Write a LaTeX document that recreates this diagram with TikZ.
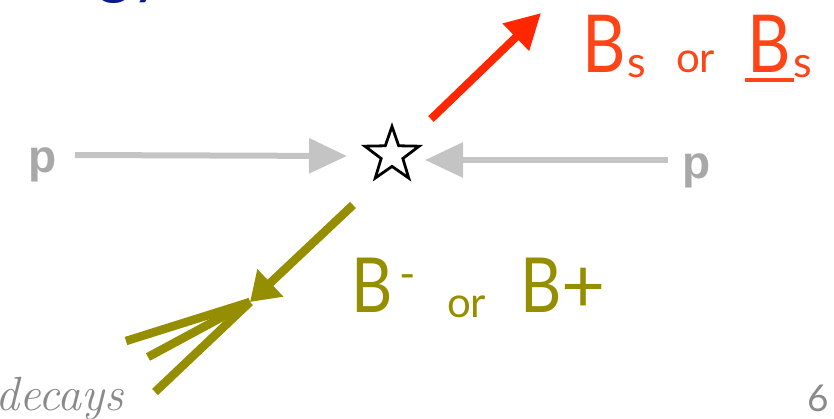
\documentclass[tikz,border=0pt]{standalone}
\usepackage{fontspec}
\usepackage{graphicx}
\newfontfamily\gill{Lato}
\newfontfamily\pfont{Liberation Sans}
\usetikzlibrary{arrows.meta,shapes.geometric}
\definecolor{redB}{HTML}{FF4418}
\definecolor{redA}{HTML}{FF2600}
\definecolor{oliveB}{HTML}{948E00}
\definecolor{grayP}{HTML}{A8A8A8}
\definecolor{grayA}{HTML}{C4C4C4}
\definecolor{titleblue}{HTML}{0A1A8C}
\definecolor{grayT}{HTML}{8A8A8A}
\newcommand{\narrowB}{\scalebox{0.84}[1]{B}}
\tikzset{
  txt/.style={inner sep=0pt, outer sep=0pt, anchor=base west},
  redtxt/.style={txt, text=redB},
  olivetxt/.style={txt, text=oliveB},
  ptxt/.style={txt, text=grayP, font=\pfont\bfseries\fontsize{46}{46}\selectfont},
  beam/.style={draw=grayA, line width=6pt, -{Triangle[length=38pt,width=34pt]}},
  redarrow/.style={draw=redA, line width=8pt, -{Triangle[length=35pt,width=36pt]}},
  oliveline/.style={draw=oliveB, line width=8.5pt},
  olivearrow/.style={oliveline, -{Triangle[length=28pt,width=36pt]}},
}
\begin{document}
\begin{tikzpicture}[x=1pt,y=-1pt]
\useasboundingbox (0,0) rectangle (834,418);
\begin{scope}
\clip (0,0) rectangle (834,418);
% cropped title fragment
\node[txt, text=titleblue, font=\gill\fontsize{66}{66}\selectfont] (title) at (97,-9) {gy};
% decays
\node[txt, text=grayT, font=\itshape\fontsize{48}{48}\selectfont] (decays) at (-5,410) {decays};
\end{scope}
% page number
\node[inner sep=0pt, anchor=base east, text=grayT, font=\gill\fontsize{37}{37}\selectfont] (pnum) at (829,411) {6};

% protons
\node[ptxt] (pl) at (28,172) {p};
\node[ptxt] (pr) at (682,178) {p};
\node[star, star points=5, star point ratio=2.5, minimum size=57pt, draw=black, fill=white, line width=2.8pt, inner sep=0pt] (star) at (392,155) {};
\coordinate (lbeg) at (75,155);
\coordinate (ltip) at (347,156);
\coordinate (rbeg) at (668,160);
\coordinate (rtip) at (425,160);
\draw[beam] (lbeg) -- (ltip);
\draw[beam] (rbeg) -- (rtip);

% red Bs
\coordinate (rstart) at (431,119);
\coordinate (rend) at (541,13);
\draw[redarrow] (rstart) -- (rend);
\node[redtxt, font=\gill\fontsize{80}{80}\selectfont] (bs1) at (582,72) {\narrowB};
\node[redtxt, font=\gill\fontsize{43}{43}\selectfont] (s1) at (627,77) {s};
\node[redtxt, font=\gill\fontsize{42}{42}\selectfont] (or1) at (676,72) {or};
\node[redtxt, font=\gill\fontsize{80}{80}\selectfont] (bs2) at (747,72) {\narrowB};
\node[redtxt, font=\gill\fontsize{43}{43}\selectfont] (s2) at (793,77) {s};
\coordinate (ul1) at (745,80);
\coordinate (ul2) at (794,80);
\draw[draw=redB, line width=3.2pt] (ul1) -- (ul2);

% olive B
\coordinate (bstart) at (353,205);
\coordinate (btip) at (250,302);
\coordinate (bend) at (155,392);
\coordinate (f1) at (126,341);
\coordinate (f2) at (148,357);
\draw[olivearrow] (bstart) -- (btip);
\draw[oliveline] (btip) -- (bend);
\draw[oliveline] (btip) -- (f1);
\draw[oliveline] (btip) -- (f2);
\node[olivetxt, font=\gill\fontsize{76}{76}\selectfont] (bm) at (351,312) {\narrowB};
\node[olivetxt, font=\gill\fontsize{44}{44}\selectfont] (minus) at (399,289) {-};
\node[olivetxt, font=\gill\fontsize{42}{42}\selectfont] (or2) at (447,317) {or};
\node[olivetxt, font=\gill\fontsize{76}{76}\selectfont] (bp) at (520,312) {\narrowB+};
\end{tikzpicture}
\end{document}
